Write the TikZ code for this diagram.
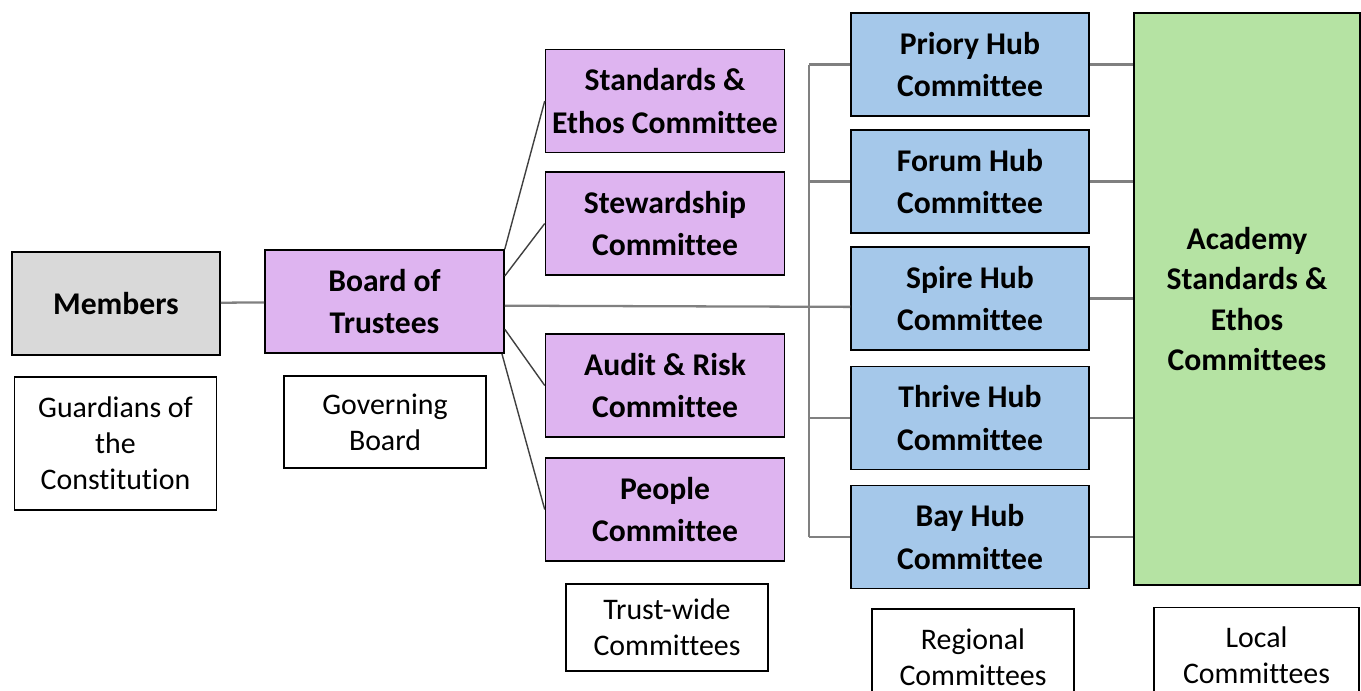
\documentclass[tikz,border=0pt]{standalone}
\usepackage{fontspec}
\setmainfont{Carlito}[Ligatures=NoCommon]
\usepackage{xcolor}
\usepackage{tikz}
\definecolor{membergray}{RGB}{217,217,217}
\definecolor{trustpurple}{RGB}{222,180,240}
\definecolor{hubblue}{RGB}{165,200,234}
\definecolor{localgreen}{RGB}{181,227,163}
\definecolor{linkgray}{RGB}{128,128,128}
\tikzset{%
    every unit/.style={
            draw,
            line width=0.9pt,
            align=center,
            inner sep=0pt,
            minimum width=4.78cm,
            minimum height=2.06cm,
            font=\fontsize{18}{24}\selectfont\bfseries
        },
    unit members/.style={fill=membergray, minimum width=4.16cm},
    unit trust/.style={fill=trustpurple},
    unit hub/.style={fill=hubblue, minimum width=4.76cm},
    unit academy/.style={
            fill=localgreen,
            minimum width=4.52cm,
            minimum height=11.44cm,
            font=\fontsize{18}{23}\selectfont\bfseries
        },
    unit caption/.style={
            fill=white,
            minimum width=4.04cm,
            font=\fontsize{17}{20.5}\selectfont
        },
    link/.style={draw=linkgray, line width=1.3pt},
    branch/.style={draw=black!75, line width=0.8pt}
}

\begin{document}
\begin{tikzpicture}[x=0.02cm, y=-0.02cm]

        \useasboundingbox (0,0) rectangle (1361,690);

        \node [every unit/.try, unit members/.try] (members) at (116,303.5) {Members};
        \node [every unit/.try, unit caption/.try, minimum height=2.66cm] (guardians) at (115.5,443.5)
        {Guardians of\\the\\Constitution};

        \node [every unit/.try, unit trust/.try] (board) at (384.5,301.5) {Board of\\Trustees};
        \node [every unit/.try, unit caption/.try, minimum height=1.84cm] (governing) at (385,422)
        {Governing\\Board};

        \foreach \l/\y [count=\i] in {Standards \&\\Ethos Committee/101,
                Stewardship\\Committee/223.5,
                Audit \& Risk\\Committee/385.5,
                People\\Committee/509.5}
        \node [every unit/.try, unit trust/.try] (trust-\i) at (665,\y) {\l};

        \node [every unit/.try, unit caption/.try, minimum height=1.74cm] (trustwide) at (667,627.5)
        {Trust-wide\\Committees};

        \foreach \l/\y [count=\i] in {Priory/64.5, Forum/181.5, Spire/298.5, Thrive/418, Bay/537}
        \node [every unit/.try, unit hub/.try] (hub-\i) at (970,\y) {\l\ Hub\\Committee};

        \node [every unit/.try, unit caption/.try, minimum height=1.92cm] (regional) at (973,657)
        {Regional\\Committees};

        \node [every unit/.try, unit academy/.try] (academy) at (1247,299)
        {Academy\\Standards \&\\Ethos\\Committees};

        \node [every unit/.try, unit caption/.try, minimum width=4.1cm, minimum height=1.92cm] (local) at (1256.5,655.5)
        {Local\\Committees};

        \coordinate (trunk) at (809,0);

        \draw [link] (members) -- (board);
        \draw [link] (board.-2) -- (hub-3.184);

        \draw [branch] (board.north east) -- (trust-1.west);
        \draw [branch] (board.12) -- (trust-2.west);
        \draw [branch] (board.-13) -- (trust-3.west);
        \draw [branch] (board.-24) -- (trust-4.west);

        \draw [link] (hub-1.west -| trunk) -- (hub-5.west -| trunk);

        \foreach \i in {1,2,4,5}
        \draw [link] (hub-\i.west -| trunk) -- (hub-\i.west);

        \foreach \i in {1,...,5}
        \draw [link] (hub-\i.east) -- (hub-\i.east -| academy.west);

    \end{tikzpicture}
\end{document}
